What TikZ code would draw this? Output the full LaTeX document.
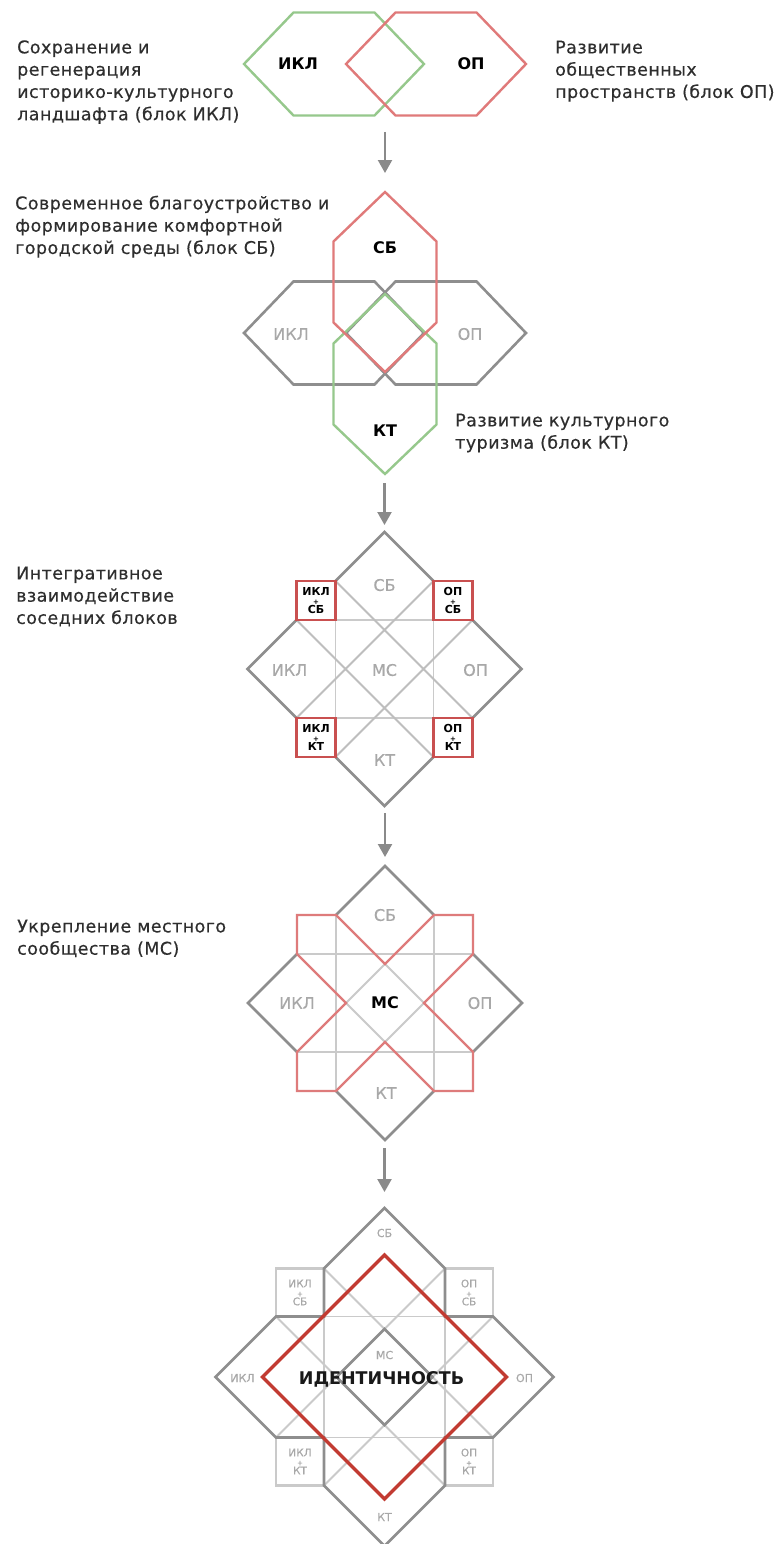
\documentclass[tikz,border=0pt]{standalone}
\usepackage{fontspec}
\setmainfont{DejaVu Sans}
\newfontfamily\descfont[LetterSpace=2.5,FakeBold=0.4]{DejaVu Sans}
\newfontfamily\labfont[FakeBold=0.3]{DejaVu Sans}
\usetikzlibrary{arrows.meta}
\definecolor{hexgreen}{HTML}{96C88C}
\definecolor{hexred}{HTML}{E07A7A}
\definecolor{outgray}{HTML}{8E8E8E}
\definecolor{lightgray}{HTML}{CACACA}
\definecolor{diaggray}{HTML}{BEBEBE}
\definecolor{sqred}{HTML}{C95050}
\definecolor{starred}{HTML}{DE7B7B}
\definecolor{idred}{HTML}{C23B32}
\definecolor{labgray}{HTML}{A8A8A8}
\definecolor{txtdark}{HTML}{2E2E2E}
\definecolor{arrgray}{HTML}{8A8A8A}
\newcommand\HexH[2]{(#1-90,#2) -- (#1-40.5,#2-51.5) -- (#1+40.5,#2-51.5) -- (#1+90,#2) -- (#1+40.5,#2+51.5) -- (#1-40.5,#2+51.5) -- cycle}
\newcommand\HexV[2]{(#1,#2-90) -- (#1+51.5,#2-40.5) -- (#1+51.5,#2+40.5) -- (#1,#2+90) -- (#1-51.5,#2+40.5) -- (#1-51.5,#2-40.5) -- cycle}
\newcommand\plusline{{\fontsize{7}{6}\selectfont+}}
\begin{document}
\begin{tikzpicture}[x=1pt,y=-1pt,
  hexg/.style={draw=hexgreen, line width=2.4pt, line join=miter},
  hexr/.style={draw=hexred, line width=2.4pt, line join=miter},
  hexgray/.style={draw=outgray, line width=2.6pt, line join=miter},
  outer/.style={draw=outgray, line width=2.6pt, line join=miter},
  lgrid/.style={draw=lightgray, line width=1.9pt},
  ldiag/.style={draw=diaggray, line width=1.9pt},
  redsq/.style={draw=sqred, line width=2.6pt},
  redstar/.style={draw=starred, line width=2.4pt, line join=miter},
  idline/.style={draw=idred, line width=3.4pt, line join=miter},
  arr/.style={draw=arrgray, line width=2.2pt, -{Triangle[width=14pt,length=13pt]}},
  dl/.style={anchor=west, inner sep=0pt, text=txtdark, text height=12.7pt, text depth=0pt,
     font=\descfont\fontsize{17.5}{21}\selectfont},
  lbb/.style={inner sep=0pt, text=black, text height=11.7pt, text depth=0pt,
     font=\fontsize{16}{18}\selectfont\bfseries},
  lbg/.style={inner sep=0pt, text=labgray, text height=11.7pt, text depth=0pt,
     font=\labfont\fontsize{16}{18}\selectfont},
  sqlab/.style={inner sep=0pt, align=center, text=black,
     font=\fontsize{11}{9}\selectfont\bfseries},
  sqlabg/.style={inner sep=0pt, align=center, text=labgray,
     font=\labfont\fontsize{10.5}{9}\selectfont},
  slab/.style={inner sep=0pt, text=labgray, text height=8pt, text depth=0pt,
     font=\labfont\fontsize{11}{12}\selectfont},
  idlab/.style={inner sep=0pt, text=black!90, text height=12.8pt, text depth=0pt,
     font=\fontsize{17.5}{20}\selectfont\bfseries}
]
\useasboundingbox (0,0) rectangle (784,1544);
\fill[white] (0,0) rectangle (784,1544);

% ---------------- texts ----------------
\node[dl] (t1a) at (17,47) {Сохранение и};
\node[dl] (t1b) at (17,69.3) {регенерация};
\node[dl] (t1c) at (17,91.6) {историко-культурного};
\node[dl] (t1d) at (17,113.9) {ландшафта (блок ИКЛ)};
\node[dl] (t2a) at (555,47) {Развитие};
\node[dl] (t2b) at (555,69.3) {общественных};
\node[dl] (t2c) at (555,91.6) {пространств (блок ОП)};
\node[dl] (t3a) at (15,203) {Современное благоустройство и};
\node[dl] (t3b) at (15,225.3) {формирование комфортной};
\node[dl] (t3c) at (15,247.6) {городской среды (блок СБ)};
\node[dl] (t4a) at (455,420) {Развитие культурного};
\node[dl] (t4b) at (455,442.3) {туризма (блок КТ)};
\node[dl] (t5a) at (16,573) {Интегративное};
\node[dl] (t5b) at (16,595.3) {взаимодействие};
\node[dl] (t5c) at (16,617.6) {соседних блоков};
\node[dl] (t6a) at (17,926) {Укрепление местного};
\node[dl] (t6b) at (17,948.3) {сообщества (МС)};

% ---------------- section 1 ----------------
\draw[hexg] \HexH{334}{64};
\draw[hexr] \HexH{436}{64};
\node[lbb] (s1ikl) at (298,64) {ИКЛ};
\node[lbb] (s1op) at (471,64) {ОП};

% ---------------- section 2 ----------------
\draw[hexgray] \HexH{334}{333};
\draw[hexgray] \HexH{436}{333};
\draw[hexg] \HexV{385}{384};
\draw[hexr] \HexV{385}{282};
\node[lbg] (s2ikl) at (291,334) {ИКЛ};
\node[lbg] (s2op) at (470,334) {ОП};
\node[lbb] (s2sb) at (385,248) {СБ};
\node[lbb] (s2kt) at (385,431) {КТ};

% ---------------- section 3 ----------------
\begin{scope}[shift={(384.5,669)}]
  \draw[lgrid] (-88,-49) -- (88,-49) (-88,49) -- (88,49) (-49,-88) -- (-49,88) (49,-88) -- (49,88);
  \draw[ldiag] (-49,-88) -- (88,49) (49,-88) -- (-88,49) (-88,-49) -- (49,88) (88,-49) -- (-49,88);
  \draw[outer] (-49,-88) -- (0,-137) -- (49,-88) (88,-49) -- (137,0) -- (88,49)
               (49,88) -- (0,137) -- (-49,88) (-88,49) -- (-137,0) -- (-88,-49);
  \draw[redsq] (-88,-88) rectangle (-49,-49) (49,-88) rectangle (88,-49)
               (-88,49) rectangle (-49,88) (49,49) rectangle (88,88);
  \node[lbg] (s3sb) at (0,-84) {СБ};
  \node[lbg] (s3ikl) at (-95,1) {ИКЛ};
  \node[lbg] (s3ms) at (0,1) {МС};
  \node[lbg] (s3op) at (91,1) {ОП};
  \node[lbg] (s3kt) at (0,91) {КТ};
  \node[sqlab] (s3q1) at (-68.5,-68.5) {ИКЛ\\\plusline\\СБ};
  \node[sqlab] (s3q2) at (68.5,-68.5) {ОП\\\plusline\\СБ};
  \node[sqlab] (s3q3) at (-68.5,68.5) {ИКЛ\\\plusline\\КТ};
  \node[sqlab] (s3q4) at (68.5,68.5) {ОП\\\plusline\\КТ};
\end{scope}

% ---------------- section 4 ----------------
\begin{scope}[shift={(385,1003)}]
  \draw[lgrid] (-88,-49) -- (88,-49) (-88,49) -- (88,49) (-49,-88) -- (-49,88) (49,-88) -- (49,88);
  \draw[lgrid] (0,-39) -- (39,0) -- (0,39) -- (-39,0) -- cycle;
  \draw[outer] (-49,-88) -- (0,-137) -- (49,-88) (88,-49) -- (137,0) -- (88,49)
               (49,88) -- (0,137) -- (-49,88) (-88,49) -- (-137,0) -- (-88,-49);
  \draw[redstar] (-88,-49) -- (-88,-88) -- (-49,-88) -- (0,-39) -- (49,-88) -- (88,-88) -- (88,-49)
     -- (39,0) -- (88,49) -- (88,88) -- (49,88) -- (0,39) -- (-49,88) -- (-88,88) -- (-88,49)
     -- (-39,0) -- cycle;
  \node[lbg] (s4sb) at (0,-88) {СБ};
  \node[lbg] (s4ikl) at (-88,0) {ИКЛ};
  \node[lbb] (s4ms) at (0,0) {МС};
  \node[lbg] (s4op) at (95,0) {ОП};
  \node[lbg] (s4kt) at (1,90) {КТ};
\end{scope}

% ---------------- section 5 ----------------
\begin{scope}[shift={(384.5,1377)}]
  \draw[lgrid] (-108.5,-60.5) -- (108.5,-60.5) (-108.5,60.5) -- (108.5,60.5)
               (-60.5,-108.5) -- (-60.5,108.5) (60.5,-108.5) -- (60.5,108.5);
  \draw[lgrid] (-60.5,-108.5) -- (108.5,60.5) (60.5,-108.5) -- (-108.5,60.5)
               (-108.5,-60.5) -- (60.5,108.5) (108.5,-60.5) -- (-60.5,108.5);
  \draw[lgrid, line width=2.4pt] (-108.5,-108.5) rectangle (-60.5,-60.5) (60.5,-108.5) rectangle (108.5,-60.5)
               (-108.5,60.5) rectangle (-60.5,108.5) (60.5,60.5) rectangle (108.5,108.5);
  \draw[outer] (0,-48) -- (48,0) -- (0,48) -- (-48,0) -- cycle;
  \draw[outer] (0,-169) -- (60.5,-108.5) -- (60.5,-60.5) -- (108.5,-60.5) -- (169,0)
     -- (108.5,60.5) -- (60.5,60.5) -- (60.5,108.5) -- (0,169) -- (-60.5,108.5) -- (-60.5,60.5)
     -- (-108.5,60.5) -- (-169,0) -- (-108.5,-60.5) -- (-60.5,-60.5) -- (-60.5,-108.5) -- cycle;
  \draw[idline] (0,-122) -- (122,0) -- (0,122) -- (-122,0) -- cycle;
  \node[slab] (s5sb) at (0,-144) {СБ};
  \node[slab] (s5ms) at (0,-22) {МС};
  \node[slab] (s5ikl) at (-142,1) {ИКЛ};
  \node[slab] (s5op) at (140,1) {ОП};
  \node[slab] (s5kt) at (0,140) {КТ};
  \node[sqlabg] (s5q1) at (-84.5,-84.5) {ИКЛ\\\plusline\\СБ};
  \node[sqlabg] (s5q2) at (84.5,-84.5) {ОП\\\plusline\\СБ};
  \node[sqlabg] (s5q3) at (-84.5,84.5) {ИКЛ\\\plusline\\КТ};
  \node[sqlabg] (s5q4) at (84.5,84.5) {ОП\\\plusline\\КТ};
  \node[idlab] (s5id) at (-3,1) {ИДЕНТИЧНОСТЬ};
\end{scope}

% ---------------- arrows ----------------
\coordinate (a1s) at (385,132);  \coordinate (a1e) at (385,173);
\coordinate (a2s) at (384.5,483); \coordinate (a2e) at (384.5,525);
\coordinate (a3s) at (385,813);  \coordinate (a3e) at (385,857);
\coordinate (a4s) at (384.5,1148); \coordinate (a4e) at (384.5,1192);
\draw[arr] (a1s) -- (a1e);
\draw[arr] (a2s) -- (a2e);
\draw[arr] (a3s) -- (a3e);
\draw[arr] (a4s) -- (a4e);
\end{tikzpicture}
\end{document}
